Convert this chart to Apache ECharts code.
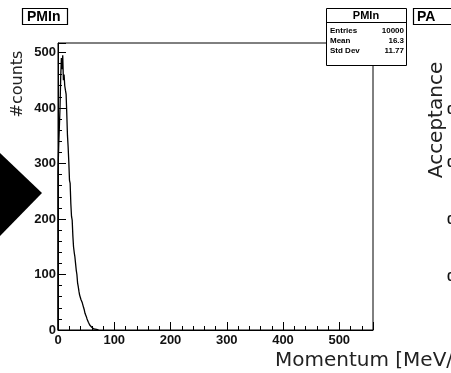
<!DOCTYPE html>
<html><head><meta charset="utf-8">
<script src="https://cdn.jsdelivr.net/npm/echarts@6/dist/echarts.min.js"></script>
<style>html,body{margin:0;padding:0;background:#fff;}#c{width:451px;height:373px;}</style>
</head><body><div id="c"></div>
<script>
// ---- data ----
const histName = 'PMIn';
const binWidth = 1.2; // MeV per bin
const counts = [285,330,365,400,455,490,470,495,450,460,
                440,432,425,390,351,330,303,270,264,228,
                205,198,170,150,140,132,120,108,100,85,
                78,70,63,60,55,52,49,46,40,36,
                30,28,24,20,18,14,12,9,8,6,
                5,3,4,2,3,1,1,0,1,0];
const xMin = 0, xMax = 560, yMin = 0, yMax = 517;
const xMajor = 100, xMinor = 20, yMajor = 100, yMinor = 20;
const statsLabels = ['Entries', 'Mean', 'Std Dev'];
const statsValues = ['10000', '16.3', '11.77'];
const yTitle = '#counts';
const xTitle = 'Momentum [MeV/c]';
const rightTitle = 'Acceptance';
const rightBoxText = 'PA';
const rightTickLabels = ['0.8', '0.6', '0.4', '0.2'];

// ---- build ----
const histPts = [[0, 0]];
counts.forEach((c, i) => histPts.push([i * binWidth, c]));
histPts.push([counts.length * binWidth, 0]);

const lblFont = 'bold 13px "Liberation Sans", Arial, sans-serif';
const slideFont = '"DejaVu Sans", sans-serif';

const chart = echarts.init(document.getElementById('c'), null, {renderer: 'canvas'});
const majorFmt = v => (Math.abs(v % 100) < 1e-6 ? String(v) : '');

chart.setOption({
  animation: false,
  backgroundColor: '#fff',
  grid: {left: 58, top: 43, width: 315, height: 287, show: true, borderColor: '#000', borderWidth: 1, backgroundColor: 'transparent'},
  xAxis: [
    {type: 'value', min: xMin, max: xMax, interval: xMajor, position: 'bottom',
     axisLine: {show: true, lineStyle: {color: '#000', width: 1}},
     axisTick: {show: true, inside: true, length: 8, lineStyle: {color: '#000'}},
     axisLabel: {show: true, margin: 4, formatter: majorFmt, color: '#111', fontFamily: '"Liberation Sans", Arial', fontWeight: 'bold', fontSize: 13},
     splitLine: {show: false}},
    {type: 'value', min: xMin, max: xMax, interval: xMinor, position: 'bottom',
     axisLine: {show: false}, axisTick: {show: true, inside: true, length: 4, lineStyle: {color: '#000'}},
     axisLabel: {show: false}, splitLine: {show: false}}
  ],
  yAxis: [
    {type: 'value', min: yMin, max: yMax, interval: yMajor, position: 'left',
     axisLine: {show: true, lineStyle: {color: '#000', width: 1}},
     axisTick: {show: true, inside: true, length: 8, lineStyle: {color: '#000'}},
     axisLabel: {show: true, margin: 2, formatter: majorFmt, color: '#111', fontFamily: '"Liberation Sans", Arial', fontWeight: 'bold', fontSize: 13},
     splitLine: {show: false}},
    {type: 'value', min: yMin, max: yMax, interval: yMinor, position: 'left',
     axisLine: {show: false}, axisTick: {show: true, inside: true, length: 4, lineStyle: {color: '#000'}},
     axisLabel: {show: false}, splitLine: {show: false}}
  ],
  series: [{
    type: 'line', xAxisIndex: 0, yAxisIndex: 0, data: histPts, step: 'end',
    symbol: 'none', clip: true, lineStyle: {color: '#000', width: 1.3}
  }],
  graphic: [
    {type: 'polygon', shape: {points: [[0, 153], [42, 193], [0, 236]]}, style: {fill: '#000'}, z: 10},
    // title box
    {type: 'rect', shape: {x: 22.5, y: 8.5, width: 45, height: 16}, style: {fill: '#fff', stroke: '#000', lineWidth: 1.2}, z: 10},
    {type: 'text', x: 27, y: 17, style: {text: histName, font: 'bold 14px "Liberation Sans", Arial', fill: '#000', textVerticalAlign: 'middle'}, z: 11},
    // stats box
    {type: 'rect', shape: {x: 326.5, y: 8.5, width: 80, height: 57}, style: {fill: '#fff', stroke: '#000', lineWidth: 1}, z: 10},
    {type: 'line', shape: {x1: 326.5, y1: 22.5, x2: 406.5, y2: 22.5}, style: {stroke: '#000', lineWidth: 1}, z: 11},
    {type: 'text', x: 366, y: 15.5, style: {text: histName, font: 'bold 11px "Liberation Sans", Arial', fill: '#000', textAlign: 'center', textVerticalAlign: 'middle'}, z: 11},
    ...statsLabels.map((t, i) => ({type: 'text', x: 330, y: 31 + i * 10, style: {text: t, font: 'bold 8px "Liberation Sans", Arial', fill: '#000', textVerticalAlign: 'middle'}, z: 11})),
    ...statsValues.map((t, i) => ({type: 'text', x: 404, y: 31 + i * 10, style: {text: t, font: 'bold 8px "Liberation Sans", Arial', fill: '#000', textAlign: 'right', textVerticalAlign: 'middle'}, z: 11})),
    // right panel fragments
    {type: 'rect', shape: {x: 413.5, y: 8.5, width: 50, height: 16}, style: {fill: '#fff', stroke: '#000', lineWidth: 1.2}, z: 10},
    {type: 'text', x: 417, y: 17, style: {text: rightBoxText, font: 'bold 14px "Liberation Sans", Arial', fill: '#000', textVerticalAlign: 'middle'}, z: 11},
    {type: 'text', x: 437, y: 120, rotation: Math.PI / 2, style: {text: rightTitle, font: '20px ' + slideFont, fill: '#222', textAlign: 'center', textVerticalAlign: 'middle'}, z: 11},
    ...rightTickLabels.map((t, i) => ({type: 'text', x: 447, y: [110, 163, 220, 277][i], style: {text: t, font: lblFont, fill: '#111', textVerticalAlign: 'middle'}, z: 11})),
    // axis titles
    {type: 'text', x: 18, y: 84, rotation: Math.PI / 2, style: {text: yTitle, font: '16px ' + slideFont, fill: '#222', textAlign: 'center', textVerticalAlign: 'middle'}, z: 11},
    {type: 'text', x: 275, y: 361, style: {text: xTitle, font: '20px ' + slideFont, fill: '#222', textVerticalAlign: 'middle'}, z: 11}
  ]
});
</script>
</body></html>
